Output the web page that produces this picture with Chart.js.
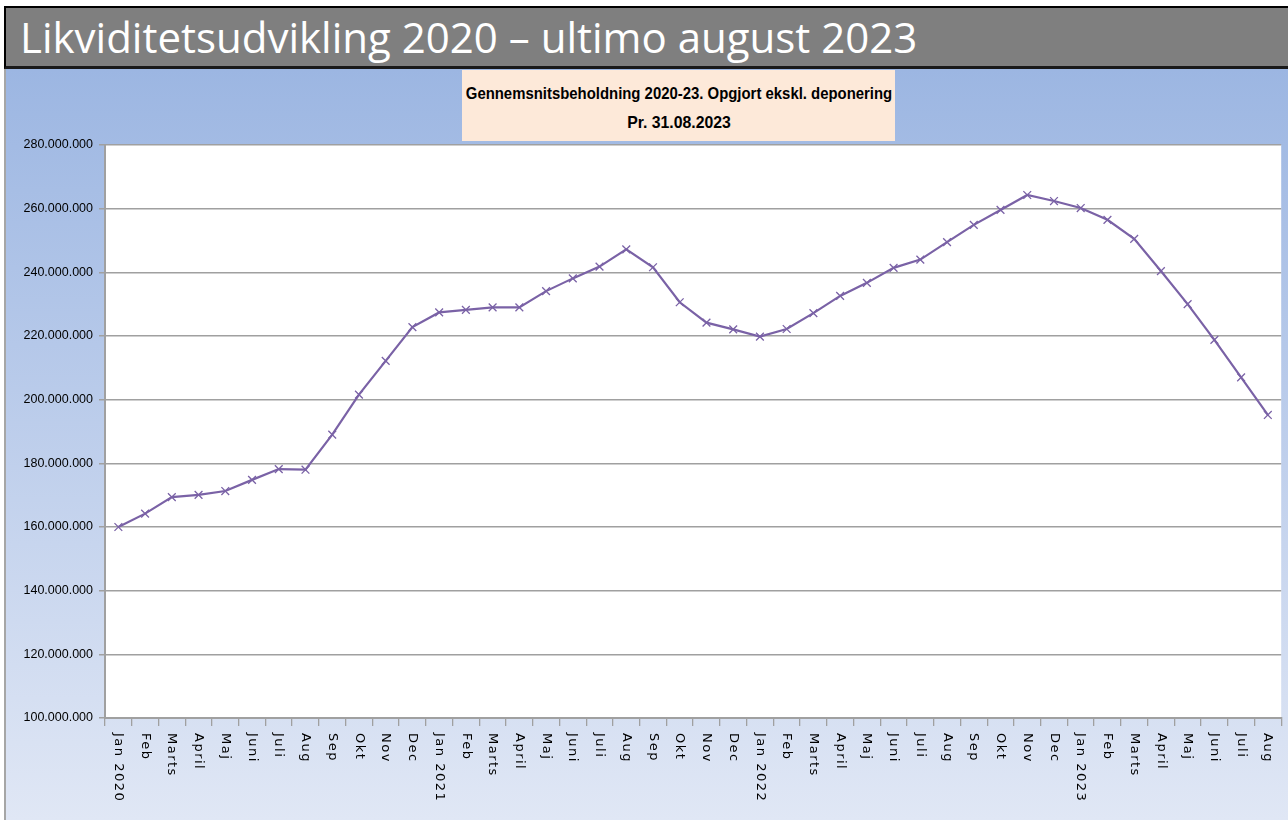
<!DOCTYPE html>
<html>
<head>
<meta charset="utf-8">
<script src="https://cdn.jsdelivr.net/npm/chart.js@4"></script>
<style>
  body { margin: 0; background: #fff; width: 1288px; height: 820px; overflow: hidden; position: relative; }
  #banner {
    position: absolute; left: 4px; top: 6px; width: 1290px; height: 58px;
    background: #7f7f7f; border-top: 2px solid #000; border-left: 2px solid #000; border-bottom: 3px solid #1a1a1a;
  }
  #banner span {
    position: absolute; left: 14px; top: 0px; line-height: 58px; color: #fff;
    font-family: "Open Sans", sans-serif; font-size: 42px; white-space: nowrap;
  }
  #panel {
    position: absolute; left: 4px; top: 69px; width: 1284px; height: 751px;
    background: linear-gradient(#9cb6e2, #e0e7f5);
    border-left: 2px solid #a6a6a6;
  }
  #sub {
    position: absolute; left: 462px; top: 70px; width: 433px; height: 71px;
    background: #fde9d9;
    font-family: "Liberation Sans", Arial, sans-serif; font-weight: bold; font-size: 17px; color: #000;
  }
  #sub span {
    position: absolute; left: 50%; white-space: nowrap; transform-origin: center;
  }
  #wrap { position: absolute; left: 0; top: 68px; width: 1288px; height: 752px; }
</style>
</head>
<body>
<div id="banner"><span>Likviditetsudvikling 2020 – ultimo august 2023</span></div>
<div id="panel"></div>
<div id="wrap"><canvas id="lineChart"></canvas></div>
<div id="sub">
  <span id="sub1" style="top:14px">Gennemsnitsbeholdning 2020-23. Opgjort ekskl. deponering</span>
  <span id="sub2" style="top:43px">Pr. 31.08.2023</span>
</div>
<script>
const months = ['Jan 2020', 'Feb', 'Marts', 'April', 'Maj', 'Juni', 'Juli', 'Aug', 'Sep', 'Okt', 'Nov', 'Dec',
    'Jan 2021', 'Feb', 'Marts', 'April', 'Maj', 'Juni', 'Juli', 'Aug', 'Sep', 'Okt', 'Nov', 'Dec',
    'Jan 2022', 'Feb', 'Marts', 'April', 'Maj', 'Juni', 'Juli', 'Aug', 'Sep', 'Okt', 'Nov', 'Dec',
    'Jan 2023', 'Feb', 'Marts', 'April', 'Maj', 'Juni', 'Juli', 'Aug'];

// gennemsnitsbeholdning i kr.
const beholdning = [
    160000000, 164200000, 169400000, 170100000, 171300000, 174800000, 178200000, 178000000,
    189000000, 201600000, 212200000, 222800000,
    227400000, 228200000, 229000000, 229000000, 234100000, 238100000, 241800000, 247200000,
    241600000, 230600000, 224200000, 222100000,
    219800000, 222200000, 227200000, 232600000, 236700000, 241400000, 244000000, 249500000,
    254900000, 259600000, 264300000, 262400000,
    260200000, 256500000, 250500000, 240400000, 230000000, 218800000, 207000000, 195200000
];

const yMin = 100000000;
const yMax = 280000000;
const yStep = 20000000;

// undertitlen presses sammen som den smalle skrift i originalen
[['sub1', 426], ['sub2', 104]].forEach(([id, w]) => {
    const el = document.getElementById(id);
    const sx = w / el.offsetWidth;
    el.style.transform = 'translateX(-50%) scaleX(' + sx + ')';
});

const ctx = document.getElementById('lineChart').getContext('2d');

// hvid baggrund i plotområdet
const plotBg = {
    id: 'plotBg',
    beforeDraw(chart) {
        const a = chart.chartArea;
        const c = chart.ctx;
        c.save();
        c.fillStyle = '#fff';
        c.fillRect(a.left, a.top, a.right - a.left, a.bottom - a.top);
        c.restore();
    }
};

// x-labels drejet med uret, som i Excel
const xLabels = {
    id: 'xLabels',
    afterDraw(chart) {
        const sx = chart.scales.x;
        const c = chart.ctx;
        c.save();
        c.font = '13px "DejaVu Sans", sans-serif';
        c.letterSpacing = '1.5px';
        c.fillStyle = '#000';
        c.textAlign = 'left';
        c.textBaseline = 'middle';
        months.forEach((m, i) => {
            const x = sx.getPixelForTick(i);
            c.save();
            c.translate(x, sx.top + 15);
            c.rotate(Math.PI / 2);
            c.fillText(m, 0, 0);
            c.restore();
        });
        c.restore();
    }
};

new Chart(ctx, {
    type: 'line',
    data: {
        labels: months,
        datasets: [{
            label: 'Gennemsnitsbeholdning',
            data: beholdning,
            borderColor: '#7a62a6',
            backgroundColor: '#7a62a6',
            borderWidth: 2.2,
            pointStyle: 'crossRot',
            pointRadius: 5.5,
            pointBorderWidth: 1.3,
            tension: 0
        }]
    },
    options: {
        responsive: true,
        maintainAspectRatio: false,
        animation: false,
        layout: { padding: { top: 77, right: 6, left: 0, bottom: 0 } },
        plugins: {
            legend: { display: false },
            tooltip: { enabled: false }
        },
        scales: {
            x: {
                offset: true,
                afterFit: (s) => { s.height = 102; },
                ticks: { display: false },
                grid: {
                    offset: true,
                    drawOnChartArea: false,
                    drawTicks: true,
                    tickLength: 8,
                    color: '#a0a0a0',
                    lineWidth: 1.3
                },
                border: { color: '#a0a0a0', width: 2 }
            },
            y: {
                min: yMin,
                max: yMax,
                afterFit: (s) => { s.width = 105; },
                ticks: {
                    stepSize: yStep,
                    color: '#000',
                    padding: 6,
                    font: { family: '"Liberation Sans", Arial, sans-serif', size: 12.5 },
                    callback: function(value) {
                        return value.toLocaleString('da-DK');
                    }
                },
                grid: {
                    color: '#a0a0a0',
                    lineWidth: 1.5,
                    tickLength: 6
                },
                border: { color: '#a0a0a0', width: 2 }
            }
        }
    },
    plugins: [plotBg, xLabels]
});
</script>
</body>
</html>
